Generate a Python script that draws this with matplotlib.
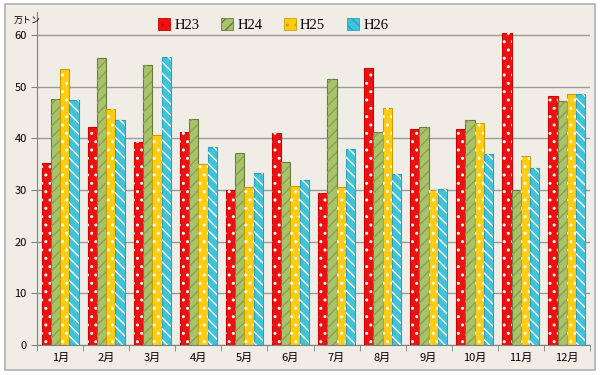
import matplotlib
matplotlib.use('Agg')
import matplotlib.pyplot as plt
import numpy as np
from matplotlib.patches import Rectangle

plt.rcParams['font.family'] = ['Noto Sans CJK JP', 'DejaVu Sans']

months = ['1月', '2月', '3月', '4月', '5月', '6月', '7月', '8月', '9月', '10月', '11月', '12月']
h23 = [35.2, 42.2, 39.3, 41.2, 30.0, 41.0, 29.4, 53.7, 41.8, 41.8, 60.4, 48.2]
h24 = [47.6, 55.5, 54.3, 43.8, 37.2, 35.5, 51.5, 41.3, 42.2, 43.6, 30.0, 47.3]
h25 = [53.5, 45.8, 40.7, 35.1, 30.7, 30.8, 30.7, 45.9, 30.0, 43.0, 36.7, 48.6]
h26 = [47.4, 43.6, 55.8, 38.3, 33.3, 32.0, 38.0, 33.2, 30.2, 36.9, 34.2, 48.6]
labels = ['H23', 'H24', 'H25', 'H26']

# face, border, hatch, hatch colour
styles = [
    ('#ee1111', '#cc0000', '..', 'white'),
    ('#a8c46a', '#6b7a3a', '///', '#8aa052'),
    ('#ffcc11', '#c9a000', '..', 'white'),
    ('#3fc3d8', '#2f9fbf', '\\\\\\', 'white'),
]

bg = '#f0ede7'
fig = plt.figure(figsize=(6, 3.75), dpi=100)
fig.patch.set_facecolor('white')
fig.add_artist(Rectangle((0.008, 0.014), 0.984, 0.976, transform=fig.transFigure,
                         facecolor=bg, edgecolor='#b0b0b0', lw=1.2, zorder=-10))
ax = fig.add_axes([0.062, 0.08, 0.921, 0.888])
ax.set_facecolor(bg)

x = np.arange(len(months))
w = 0.2
series = [h23, h24, h25, h26]
handles = []
for i, (vals, st) in enumerate(zip(series, styles)):
    face, edge, hatch, hcol = st
    pos = x + (i - 1.5) * w
    ax.bar(pos, vals, w, color=face, edgecolor=edge, linewidth=0.8, zorder=2)
    ax.bar(pos, vals, w, color='none', edgecolor=hcol, hatch=hatch, linewidth=0, zorder=3)
    handles.append(Rectangle((0, 0), 1, 1, facecolor=face, edgecolor=edge, hatch=hatch, lw=0.6))

ax.set_xlim(-0.5, 11.5)
ax.set_ylim(0, 64.5)
ax.set_yticks(range(0, 61, 10))
ax.yaxis.grid(True, color='#9a9a9a', lw=1)
ax.set_axisbelow(True)
ax.set_xticks(x)
ax.set_xticklabels(months, fontsize=8)
ax.set_xticks(np.arange(-0.5, 12, 1), minor=True)
ax.tick_params(axis='x', which='major', length=0, pad=6)
ax.tick_params(axis='x', which='minor', length=4, color='#808080')
ax.tick_params(axis='y', labelsize=8, length=4, color='#808080')
for s in ['top', 'right']:
    ax.spines[s].set_visible(False)
for s in ['left', 'bottom']:
    ax.spines[s].set_color('#808080')

ax.text(-0.043, 62.9, '万トン', transform=ax.get_yaxis_transform(), fontsize=6.5,
        ha='left', va='center')

ax.legend(handles, labels, loc='upper left', bbox_to_anchor=(0.195, 1.02), ncol=4,
          frameon=False, handlelength=0.8, handleheight=0.8, handletextpad=0.3,
          columnspacing=1.5, prop={'family': 'Liberation Serif', 'size': 10.5})

fig.savefig('out.png', dpi=100, facecolor=fig.get_facecolor())
